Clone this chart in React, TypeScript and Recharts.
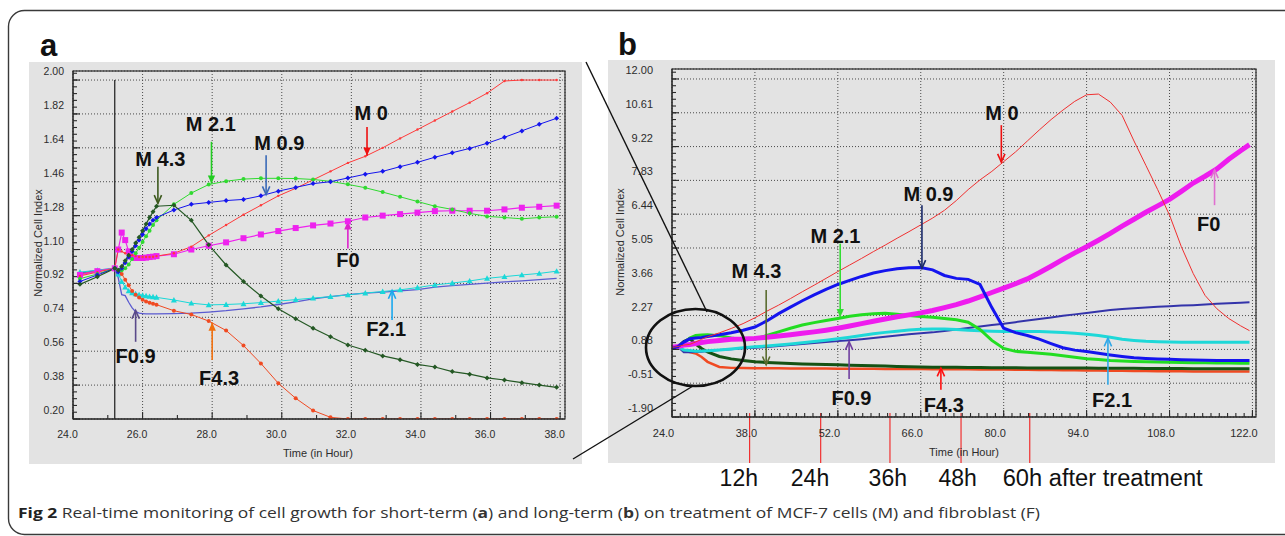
import React from "react";
import {
  LineChart,
  Line,
  XAxis,
  YAxis,
  CartesianGrid,
  ReferenceLine,
  ReferenceDot,
} from "recharts";

// ---------- panel a : short term (24 - 38 h) ----------
const hoursA = [
  24.2, 24.7, 25.2, 25.3, 25.4, 25.5, 25.6, 25.7, 25.8, 25.9, 26.0, 26.1, 26.2, 26.3, 26.4,
  26.9, 27.4, 27.9, 28.4, 28.9, 29.4, 29.9, 30.4, 30.9, 31.4, 31.9, 32.4, 32.9, 33.4, 33.9,
  34.4, 34.9, 35.4, 35.9, 36.4, 36.9, 37.4, 37.9,
];
const m0A = [
  0.96, 0.98, 1.0, 1.1, 1.09, 1.08, 1.075, 1.07, 1.065, 1.06, 1.06, 1.06, 1.06, 1.062, 1.065,
  1.08, 1.115, 1.175, 1.23, 1.285, 1.335, 1.385, 1.425, 1.47, 1.515, 1.56, 1.595, 1.64, 1.69,
  1.737, 1.785, 1.833, 1.88, 1.93, 1.995, 2.0, 2.0, 2.0,
];
const m09A = [
  0.93, 0.965, 1.0, 0.98, 1.0, 1.03, 1.06, 1.09, 1.12, 1.15, 1.18, 1.21, 1.235, 1.255, 1.27,
  1.31, 1.34, 1.35, 1.36, 1.366, 1.385, 1.41, 1.43, 1.45, 1.46, 1.48, 1.5, 1.515, 1.54, 1.563,
  1.59, 1.614, 1.637, 1.664, 1.696, 1.73, 1.765, 1.797,
];
const m21A = [
  0.945, 0.97, 1.0, 0.99, 0.99, 1.0, 1.02, 1.05, 1.08, 1.11, 1.14, 1.17, 1.2, 1.23, 1.255,
  1.34, 1.4, 1.445, 1.463, 1.474, 1.478, 1.478, 1.477, 1.472, 1.462, 1.446, 1.428, 1.405, 1.38,
  1.355, 1.33, 1.313, 1.292, 1.276, 1.27, 1.263, 1.27, 1.274,
];
const m43A = [
  0.915, 0.955, 1.0, 0.99, 1.01, 1.04, 1.07, 1.1, 1.135, 1.165, 1.2, 1.235, 1.27, 1.3, 1.33,
  1.335, 1.255, 1.125, 1.018, 0.93, 0.853, 0.786, 0.732, 0.682, 0.637, 0.593, 0.565, 0.535,
  0.515, 0.49, 0.476, 0.452, 0.438, 0.418, 0.407, 0.393, 0.38, 0.368,
];
const f0A = [
  0.965, 0.985, 1.0, 1.1, 1.19, 1.15, 1.09, 1.06, 1.055, 1.055, 1.055, 1.057, 1.06, 1.062, 1.065,
  1.075, 1.1, 1.12, 1.138, 1.16, 1.18, 1.198, 1.214, 1.228, 1.238, 1.25, 1.27, 1.28, 1.288,
  1.296, 1.304, 1.306, 1.306, 1.306, 1.313, 1.322, 1.327, 1.333,
];
const f09A = [
  0.975, 0.99, 1.0, 0.95, 0.86, 0.855, 0.82, 0.79, 0.77, 0.762, 0.76, 0.758, 0.758, 0.758, 0.758,
  0.76, 0.762, 0.768, 0.775, 0.785, 0.795, 0.808, 0.822, 0.838, 0.85, 0.86, 0.868, 0.874, 0.88,
  0.887, 0.9, 0.908, 0.915, 0.922, 0.928, 0.933, 0.94, 0.947,
];
const f21A = [
  0.98, 0.99, 1.0, 0.97, 0.93, 0.9, 0.88, 0.87, 0.865, 0.86, 0.857, 0.854, 0.851, 0.849, 0.846,
  0.832, 0.815, 0.806, 0.808, 0.812, 0.818, 0.826, 0.834, 0.842, 0.85, 0.859, 0.869, 0.877,
  0.886, 0.898, 0.912, 0.922, 0.933, 0.947, 0.956, 0.965, 0.973, 0.985,
];
const f43A = [
  0.97, 0.985, 1.0, 0.99, 0.97, 0.94, 0.91, 0.88, 0.86, 0.845, 0.833, 0.824, 0.817, 0.812, 0.807,
  0.775, 0.755, 0.72, 0.67, 0.59, 0.495, 0.39, 0.31, 0.245, 0.209, 0.2, 0.2, 0.2, 0.2, 0.2,
  0.2, 0.2, 0.2, 0.2, 0.2, 0.2, 0.2, 0.2,
];

// ---------- panel b : long term (24 - 122 h) ----------
const hoursB = [
  24, 25, 26, 27, 28, 29, 30, 32, 34, 36, 38, 40, 42, 44, 46, 48, 50, 52, 54, 56, 58, 60, 62,
  64, 66, 68, 70, 72, 74, 76, 78, 80, 82, 84, 86, 88, 90, 92, 94, 96, 98, 100, 102, 104, 106,
  108, 110, 112, 114, 116, 118, 120, 121.5,
];
const m0B = [
  0.96, 1.0, 1.06, 1.085, 1.185, 1.295, 1.4, 1.56, 1.74, 1.94, 2.18, 2.45, 2.7, 2.97, 3.25, 3.52,
  3.8, 4.08, 4.35, 4.62, 4.9, 5.17, 5.45, 5.72, 6.0, 6.28, 6.6, 7.0, 7.45, 7.85, 8.2, 8.6, 9.0,
  9.45, 9.9, 10.33, 10.72, 11.08, 11.35, 11.38, 11.05, 10.5, 9.45, 8.45, 7.45, 6.4, 5.1, 4.0,
  3.1, 2.55, 2.15, 1.85, 1.65,
];
const m09B = [
  0.93, 0.99, 1.18, 1.315, 1.35, 1.37, 1.41, 1.48, 1.565, 1.67, 1.8, 2.05, 2.35, 2.62, 2.88,
  3.12, 3.35, 3.55, 3.72, 3.88, 4.02, 4.12, 4.2, 4.24, 4.25, 4.15, 3.92, 3.8, 3.76, 3.55, 2.6,
  1.75, 1.57, 1.45, 1.3, 1.12, 0.95, 0.85, 0.79, 0.72, 0.65, 0.59, 0.54, 0.51, 0.49, 0.47, 0.45,
  0.44, 0.43, 0.42, 0.42, 0.42, 0.42,
];
const m21B = [
  0.945, 0.99, 1.14, 1.35, 1.45, 1.474, 1.478, 1.446, 1.35, 1.275, 1.3, 1.45, 1.6, 1.75, 1.88,
  1.98, 2.07, 2.15, 2.24, 2.3, 2.35, 2.37, 2.33, 2.27, 2.23, 2.2, 2.15, 2.1, 2.0, 1.7, 1.25, 0.92,
  0.8, 0.76, 0.72, 0.68, 0.62, 0.56, 0.5, 0.46, 0.42, 0.4, 0.38, 0.37, 0.36, 0.35, 0.34, 0.33,
  0.33, 0.32, 0.32, 0.31, 0.31,
];
const m43B = [
  0.915, 0.99, 1.2, 1.32, 1.1, 0.915, 0.775, 0.59, 0.49, 0.42, 0.37, 0.34, 0.32, 0.3, 0.28, 0.27,
  0.26, 0.25, 0.23, 0.22, 0.21, 0.2, 0.18, 0.17, 0.16, 0.15, 0.15, 0.15, 0.14, 0.14, 0.13, 0.13,
  0.13, 0.12, 0.12, 0.12, 0.11, 0.11, 0.11, 0.1, 0.1, 0.1, 0.1, 0.09, 0.09, 0.09, 0.09, 0.08,
  0.08, 0.08, 0.08, 0.08, 0.08,
];
const f0B = [
  0.965, 1.0, 1.055, 1.08, 1.12, 1.16, 1.2, 1.25, 1.298, 1.307, 1.333, 1.38, 1.43, 1.48, 1.54,
  1.6, 1.67, 1.75, 1.84, 1.94, 2.04, 2.13, 2.22, 2.3, 2.38, 2.48, 2.6, 2.72, 2.87, 3.04, 3.22,
  3.4, 3.58, 3.78, 4.03, 4.3, 4.58, 4.85, 5.1, 5.37, 5.65, 5.95, 6.23, 6.52, 6.78, 7.05, 7.38,
  7.72, 8.0, 8.3, 8.7, 9.05, 9.3,
];
const f09B = [
  0.975, 0.99, 0.76, 0.76, 0.768, 0.787, 0.81, 0.86, 0.888, 0.922, 0.947, 0.98, 1.02, 1.06, 1.1,
  1.14, 1.18, 1.22, 1.26, 1.3, 1.35, 1.4, 1.45, 1.5, 1.54, 1.58, 1.64, 1.7, 1.76, 1.82, 1.88,
  1.93, 2.0, 2.07, 2.13, 2.19, 2.26, 2.32, 2.38, 2.44, 2.5, 2.54, 2.57, 2.6, 2.63, 2.65, 2.68,
  2.7, 2.73, 2.76, 2.78, 2.8, 2.82,
];
const f21B = [
  0.98, 0.99, 0.857, 0.83, 0.806, 0.813, 0.827, 0.86, 0.9, 0.948, 0.985, 1.02, 1.06, 1.1, 1.15,
  1.2, 1.26, 1.32, 1.38, 1.45, 1.52, 1.58, 1.63, 1.68, 1.71, 1.72, 1.72, 1.7, 1.67, 1.65, 1.63,
  1.62, 1.62, 1.62, 1.62, 1.6, 1.57, 1.54, 1.5, 1.45, 1.38, 1.3, 1.25, 1.21, 1.19, 1.18, 1.17,
  1.17, 1.17, 1.17, 1.17, 1.17, 1.17,
];
const f43B = [
  0.97, 0.99, 0.833, 0.77, 0.71, 0.57, 0.37, 0.16, 0.12, 0.11, 0.1, 0.1, 0.1, 0.09, 0.09, 0.09,
  0.09, 0.08, 0.08, 0.08, 0.08, 0.07, 0.07, 0.07, 0.07, 0.06, 0.06, 0.06, 0.06, 0.05, 0.05, 0.05,
  0.04, 0.04, 0.03, 0.03, 0.02, 0.02, 0.01, 0.01, 0.0, 0.0, -0.01, -0.01, -0.02, -0.02, -0.02,
  -0.03, -0.03, -0.03, -0.03, -0.03, -0.03,
];

// axis ticks
const ticksXA = [24, 26, 28, 30, 32, 34, 36, 38];
const ticksYA = [0.2, 0.38, 0.56, 0.74, 0.92, 1.1, 1.28, 1.46, 1.64, 1.82, 2.0];
const ticksXB = [24, 38, 52, 66, 80, 94, 108, 122];
const ticksYB = [-1.9, -0.51, 0.88, 2.27, 3.66, 5.05, 6.44, 7.83, 9.22, 10.61, 12.0];

const treatmentA = 25.2;
const afterTreatmentB = [37.1, 49.1, 60.8, 72.8, 84.4];
const afterLabels = ["12h", "24h", "36h", "48h", "60h after treatment"];

// annotations: label position and arrow (tail -> tip) in data units
const notesA = [
  { text: "M 0", x: 32.57, y: 1.823, ax: 32.45, from: 1.75, to: 1.598, color: "#ee1111", filled: true },
  { text: "M 2.1", x: 27.96, y: 1.765, ax: 27.98, from: 1.672, to: 1.45, color: "#22cc22", filled: true },
  { text: "M 0.9", x: 29.93, y: 1.668, ax: 29.55, from: 1.6, to: 1.392, color: "#3a6ab8", filled: false },
  { text: "M 4.3", x: 26.51, y: 1.58, ax: 26.44, from: 1.54, to: 1.345, color: "#3d5a1e", filled: false },
  { text: "F0", x: 31.9, y: 1.044, ax: 31.9, from: 1.105, to: 1.25, color: "#dd22cc", filled: true },
  { text: "F2.1", x: 33.0, y: 0.678, ax: 33.17, from: 0.726, to: 0.882, color: "#1aa8ee", filled: false },
  { text: "F0.9", x: 25.8, y: 0.535, ax: 25.8, from: 0.61, to: 0.776, color: "#5a4a8a", filled: false },
  { text: "F4.3", x: 28.2, y: 0.42, ax: 28.0, from: 0.513, to: 0.712, color: "#f07010", filled: true },
];
const notesB = [
  { text: "M 0", x: 79.7, y: 10.6, ax: 79.6, from: 10.1, to: 8.58, color: "#ee1111", filled: false },
  { text: "M 0.9", x: 67.3, y: 7.28, ax: 66.2, from: 6.81, to: 4.21, color: "#1a2a6a", filled: false },
  { text: "M 2.1", x: 51.6, y: 5.55, ax: 52.4, from: 5.23, to: 2.2, color: "#33dd33", filled: true },
  { text: "M 4.3", x: 38.25, y: 4.1, ax: 39.9, from: 3.32, to: 0.25, color: "#5a6b2f", filled: false },
  { text: "F0", x: 114.6, y: 6.05, ax: 115.6, from: 6.81, to: 8.26, color: "#e070d0", filled: false },
  { text: "F0.9", x: 54.3, y: -1.12, ax: 53.9, from: -0.34, to: 1.2, color: "#7040a0", filled: false },
  { text: "F4.3", x: 69.9, y: -1.42, ax: 69.4, from: -0.78, to: 0.11, color: "#ff1010", filled: false },
  { text: "F2.1", x: 98.3, y: -1.22, ax: 97.6, from: -0.57, to: 1.34, color: "#30a8e8", filled: false },
];

const FONT = "'Liberation Sans', Arial, Helvetica, sans-serif";
const BG = "#e3e3e3";
const FRAME = "#2a2a2a";
const GRID = "#4a4a4a";

const X_A: [number, number] = [24, 38.14];
const Y_A: [number, number] = [0.2, 2.048];
const X_B: [number, number] = [24, 122.6];
const Y_B: [number, number] = [-1.9, 12.41];

// chart boxes (page px) and margins
const BOX_A = { left: 29, top: 62, width: 553, height: 402, m: { top: 9, right: 17, bottom: 45, left: 44 } };
const BOX_B = { left: 608, top: 60, width: 667, height: 403, m: { top: 9, right: 19, bottom: 46, left: 64 } };

const steps = (from: number, to: number, step: number) => {
  const out: number[] = [];
  for (let v = from; v <= to + 1e-9; v += step) out.push(+v.toFixed(4));
  return out;
};

const rowsA = hoursA.map((t, i) => ({
  t, m0: m0A[i], m09: m09A[i], m21: m21A[i], m43: m43A[i],
  f0: f0A[i], f09: f09A[i], f21: f21A[i], f43: f43A[i],
}));
const rowsB = hoursB.map((t, i) => ({
  t, m0: m0B[i], m09: m09B[i], m21: m21B[i], m43: m43B[i],
  f0: f0B[i], f09: f09B[i], f21: f21B[i], f43: f43B[i],
}));

const seriesA = [
  { key: "f09", color: "#5b5bd0", width: 1.3, shape: "none", size: 0 },
  { key: "f21", color: "#1ad8d8", width: 1, shape: "triangle", size: 6 },
  { key: "f43", color: "#f04a22", width: 1, shape: "circle", size: 4 },
  { key: "f0", color: "#ee22ee", width: 1.2, shape: "square", size: 6 },
  { key: "m0", color: "#ff3a3a", width: 1, shape: "circle", size: 2.4 },
  { key: "m21", color: "#30da30", width: 1, shape: "circle", size: 4 },
  { key: "m09", color: "#1414ee", width: 1, shape: "diamond", size: 5 },
  { key: "m43", color: "#245824", width: 1.2, shape: "diamond", size: 5 },
];
const seriesB = [
  { key: "f43", color: "#f04a22", width: 2.5 },
  { key: "m43", color: "#145214", width: 3 },
  { key: "f09", color: "#3434aa", width: 2 },
  { key: "f21", color: "#1ed8d8", width: 3 },
  { key: "m21", color: "#22dd22", width: 3 },
  { key: "f0", color: "#ee1cee", width: 5 },
  { key: "m09", color: "#1414ee", width: 3 },
  { key: "m0", color: "#f03030", width: 1 },
];

function markerDot(shape: string, size: number, color: string) {
  if (shape === "none") return false;
  return (p: any) => {
    const { cx, cy, index } = p;
    if (cx == null || cy == null) return <g key={index} />;
    const h = size / 2;
    if (shape === "square")
      return <rect key={index} x={cx - h} y={cy - h} width={size} height={size} fill={color} />;
    if (shape === "diamond")
      return (
        <polygon key={index} points={`${cx},${cy - h} ${cx + h},${cy} ${cx},${cy + h} ${cx - h},${cy}`} fill={color} />
      );
    if (shape === "triangle")
      return (
        <polygon key={index} points={`${cx},${cy - h} ${cx + h},${cy + h * 0.8} ${cx - h},${cy + h * 0.8}`} fill={color} />
      );
    return <circle key={index} cx={cx} cy={cy} r={h} fill={color} />;
  };
}

const arrowShape = (color: string, filled: boolean) => (p: any) => {
  const { x1, y1, x2, y2 } = p;
  const ang = Math.atan2(y2 - y1, x2 - x1);
  const L = 9;
  const W = 0.42;
  const ax = x2 - L * Math.cos(ang - W);
  const ay = y2 - L * Math.sin(ang - W);
  const bx = x2 - L * Math.cos(ang + W);
  const by = y2 - L * Math.sin(ang + W);
  return (
    <g>
      <line x1={x1} y1={y1} x2={x2} y2={y2} stroke={color} strokeWidth={1.6} />
      {filled ? (
        <polygon points={`${x2},${y2} ${ax},${ay} ${bx},${by}`} fill={color} />
      ) : (
        <polyline points={`${ax},${ay} ${x2},${y2} ${bx},${by}`} fill="none" stroke={color} strokeWidth={1.6} />
      )}
    </g>
  );
};

const noteLabel = (text: string) => (p: any) => (
  <text x={p.cx} y={p.cy} textAnchor="middle" dominantBaseline="central"
    fontFamily={FONT} fontWeight="bold" fontSize={20} fill="#111">
    {text}
  </text>
);

const yTick = (dx: number, size: number) => (p: any) => (
  <text x={p.x - dx} y={p.y - 5} textAnchor="end" fontFamily={FONT} fontSize={size} fill="#2c2c2c">
    {Number(p.payload.value).toFixed(2)}
  </text>
);
const xTick = (dx: number, dy: number, size: number) => (p: any) => (
  <text x={p.x - dx} y={p.y + dy} textAnchor="middle" fontFamily={FONT} fontSize={size} fill="#2c2c2c">
    {Number(p.payload.value).toFixed(1)}
  </text>
);

function renderNotes(notes: typeof notesA) {
  return notes.flatMap((n) => [
    <ReferenceLine key={n.text + "-arrow"} segment={[{ x: n.ax, y: n.from }, { x: n.ax, y: n.to }]}
      shape={arrowShape(n.color, n.filled)} />,
    <ReferenceDot key={n.text + "-label"} x={n.x} y={n.y} r={0} shape={noteLabel(n.text)} />,
  ]);
}

// frame decoration: inward ruler ticks on left/bottom edge and the closed plot frame
function FrameTicks({ box, xd, yd, minorX, majorX, minorY, majorY }: any) {
  const L = box.left + box.m.left;
  const R = box.left + box.width - box.m.right;
  const T = box.top + box.m.top;
  const B = box.top + box.height - box.m.bottom;
  const sx = (t: number) => L + ((t - xd[0]) / (xd[1] - xd[0])) * (R - L);
  const sy = (v: number) => B - ((v - yd[0]) / (yd[1] - yd[0])) * (B - T);
  return (
    <g stroke={FRAME} strokeWidth={1.1}>
      <rect x={L} y={T} width={R - L} height={B - T} fill="none" strokeWidth={1.2} />
      {minorY.map((v: number) => <line key={"my" + v} x1={L} x2={L + 4} y1={sy(v)} y2={sy(v)} />)}
      {majorY.map((v: number) => <line key={"My" + v} x1={L} x2={L + 7} y1={sy(v)} y2={sy(v)} />)}
      {minorX.map((t: number) => <line key={"mx" + t} x1={sx(t)} x2={sx(t)} y1={B} y2={B - 4} />)}
      {majorX.map((t: number) => <line key={"Mx" + t} x1={sx(t)} x2={sx(t)} y1={B} y2={B - 7} />)}
    </g>
  );
}

function PanelA() {
  return (
    <div style={{ position: "absolute", left: BOX_A.left, top: BOX_A.top, width: BOX_A.width, height: BOX_A.height, background: BG }}>
      <LineChart width={BOX_A.width} height={BOX_A.height} data={rowsA} margin={{ top: 9, right: 17, bottom: 15, left: 14 }}>
        <CartesianGrid stroke={GRID} strokeDasharray="1 2" />
        <XAxis dataKey="t" type="number" domain={X_A} ticks={ticksXA} interval={0} height={30}
          tickSize={0} tickMargin={0} tickLine={false} axisLine={{ stroke: FRAME }}
          tick={xTick(5.5, 19, 10.5)} allowDataOverflow />
        <YAxis type="number" domain={Y_A} ticks={ticksYA} interval={0} width={30}
          tickSize={0} tickMargin={0} tickLine={false} axisLine={{ stroke: FRAME }}
          tick={yTick(9, 10.5)} allowDataOverflow />
        <ReferenceLine segment={[{ x: treatmentA, y: 2.0 }, { x: treatmentA, y: 0.2 }]} stroke="#1a1a1a" strokeWidth={1.2} />
        {seriesA.map((s) => (
          <Line key={s.key} dataKey={s.key} type="linear" stroke={s.color} strokeWidth={s.width}
            dot={markerDot(s.shape, s.size, s.color)} activeDot={false} isAnimationActive={false} />
        ))}
        {renderNotes(notesA)}
      </LineChart>
    </div>
  );
}

function PanelB() {
  return (
    <div style={{ position: "absolute", left: BOX_B.left, top: BOX_B.top, width: BOX_B.width, height: BOX_B.height, background: BG }}>
      <LineChart width={BOX_B.width} height={BOX_B.height} data={rowsB} margin={{ top: 9, right: 19, bottom: 16, left: 24 }}>
        <CartesianGrid stroke={GRID} strokeDasharray="1 2" />
        <XAxis dataKey="t" type="number" domain={X_B} ticks={ticksXB} interval={0} height={30}
          tickSize={0} tickMargin={0} tickLine={false} axisLine={{ stroke: FRAME }}
          tick={xTick(8.5, 19.5, 11)} allowDataOverflow />
        <YAxis type="number" domain={Y_B} ticks={ticksYB} interval={0} width={40}
          tickSize={0} tickMargin={0} tickLine={false} axisLine={{ stroke: FRAME }}
          tick={yTick(19, 11)} allowDataOverflow />
        {seriesB.map((s) => (
          <Line key={s.key} dataKey={s.key} type="linear" stroke={s.color} strokeWidth={s.width}
            dot={false} activeDot={false} isAnimationActive={false} />
        ))}
        {afterTreatmentB.map((h) => (
          <ReferenceLine key={"after" + h} segment={[{ x: h, y: -1.74 }, { x: h, y: -3.9 }]}
            stroke="#f03030" strokeWidth={1.2} ifOverflow="visible" />
        ))}
        {renderNotes(notesB)}
      </LineChart>
    </div>
  );
}

const labelX = [738.8, 810, 887.8, 957.7, 1102.7];

export default function App() {
  return (
    <div style={{ position: "absolute", left: 0, top: 0, width: 1285, height: 536, background: "#fff", overflow: "hidden" }}>
      <PanelA />
      <PanelB />
      <svg width={1285} height={536} style={{ position: "absolute", left: 0, top: 0, pointerEvents: "none" }}>
        <FrameTicks box={BOX_A} xd={X_A} yd={Y_A} minorX={steps(25, 37, 2)} majorX={ticksXA}
          minorY={steps(0.236, 2.04, 0.036)} majorY={ticksYA} />
        <FrameTicks box={BOX_B} xd={X_B} yd={Y_B} minorX={steps(25.4, 122, 1.4)} majorX={ticksXB}
          minorY={steps(-1.622, 12.4, 0.278)} majorY={ticksYB} />

        <rect x={8.5} y={10.5} width={1300} height={524} rx={16} fill="none" stroke="#3a3a3a" strokeWidth={1.4} />
        <text x={40} y={56} fontFamily={FONT} fontWeight="bold" fontSize={31} fill="#111">a</text>
        <text x={618} y={55} fontFamily={FONT} fontWeight="bold" fontSize={31} fill="#111">b</text>

        <text x={42} y={243} transform="rotate(-90 42 243)" textAnchor="middle" fontFamily={FONT} fontSize={11} fill="#2c2c2c">
          Normalized Cell Index
        </text>
        <text x={624} y={242} transform="rotate(-90 624 242)" textAnchor="middle" fontFamily={FONT} fontSize={11} fill="#2c2c2c">
          Normalized Cell Index
        </text>
        <text x={318} y={457} textAnchor="middle" fontFamily={FONT} fontSize={11} fill="#2c2c2c">Time (in Hour)</text>
        <text x={964} y={456} textAnchor="middle" fontFamily={FONT} fontSize={11} fill="#2c2c2c">Time (in Hour)</text>

        <line x1={586} y1={62} x2={707} y2={312} stroke="#111" strokeWidth={1.4} />
        <line x1={573} y1={459} x2={693} y2={386} stroke="#111" strokeWidth={1.4} />
        <ellipse cx={695.5} cy={347.5} rx={49.5} ry={38.5} fill="none" stroke="#111" strokeWidth={2.6} />

        {afterLabels.map((t, i) => (
          <text key={t} x={labelX[i]} y={486} textAnchor="middle" fontFamily={FONT} fontSize={23} fill="#111"
            {...(i === 4 ? { textLength: 200, lengthAdjust: "spacingAndGlyphs" } : {})}>
            {t}
          </text>
        ))}

        <text x={18} y={518} fontFamily="'Open Sans', 'Liberation Sans', sans-serif" fontSize={15} fill="#333"
          textLength={1022} lengthAdjust="spacingAndGlyphs">
          <tspan fontWeight="bold" fill="#222">Fig 2</tspan> Real-time monitoring of cell growth for short-term (
          <tspan fontWeight="bold">a</tspan>) and long-term (<tspan fontWeight="bold">b</tspan>) on treatment of MCF-7 cells (M) and fibroblast (F)
        </text>
      </svg>
    </div>
  );
}
